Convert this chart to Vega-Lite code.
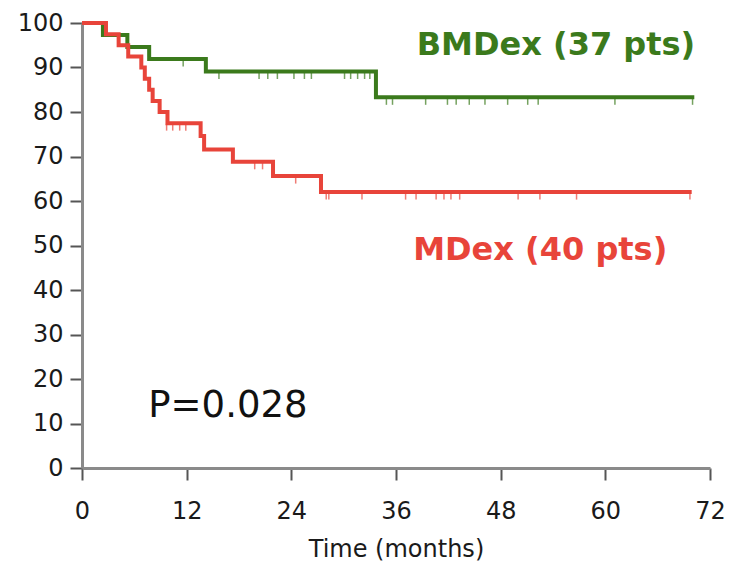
{
  "$schema": "https://vega.github.io/schema/vega-lite/v6.json",
  "autosize": "none",
  "width": 628,
  "height": 445,
  "padding": {"left": 82, "top": 23, "right": 23, "bottom": 95},
  "background": "white",
  "config": {
    "view": {"stroke": null},
    "axis": {
      "grid": false,
      "labelFlush": false,
      "domainColor": "#8a8a8a",
      "domainWidth": 3,
      "tickColor": "#555555",
      "tickWidth": 2,
      "tickSize": 12,
      "labelFont": "DejaVu Sans",
      "labelFontSize": 24,
      "labelColor": "#1a1a1a",
      "titleFont": "DejaVu Sans",
      "titleFontWeight": "normal",
      "titleFontSize": 24,
      "titleColor": "#1a1a1a"
    }
  },
  "datasets": {
    "curves": [
      {"group": "BMDex", "time": 0, "surv": 100},
      {"group": "BMDex", "time": 2.4, "surv": 97.3},
      {"group": "BMDex", "time": 5.2, "surv": 94.6},
      {"group": "BMDex", "time": 7.7, "surv": 91.9},
      {"group": "BMDex", "time": 14.2, "surv": 89.1},
      {"group": "BMDex", "time": 33.7, "surv": 83.3},
      {"group": "BMDex", "time": 70.2, "surv": 83.3},
      {"group": "MDex", "time": 0, "surv": 100},
      {"group": "MDex", "time": 2.75, "surv": 97.5},
      {"group": "MDex", "time": 4.2, "surv": 95},
      {"group": "MDex", "time": 5.3, "surv": 92.5},
      {"group": "MDex", "time": 6.8, "surv": 90},
      {"group": "MDex", "time": 7.2, "surv": 87.5},
      {"group": "MDex", "time": 7.7, "surv": 85},
      {"group": "MDex", "time": 8.1, "surv": 82.5},
      {"group": "MDex", "time": 8.9, "surv": 80},
      {"group": "MDex", "time": 9.8, "surv": 77.5},
      {"group": "MDex", "time": 13.6, "surv": 74.6},
      {"group": "MDex", "time": 14.0, "surv": 71.6},
      {"group": "MDex", "time": 17.3, "surv": 68.8},
      {"group": "MDex", "time": 21.9, "surv": 65.6},
      {"group": "MDex", "time": 27.4, "surv": 62},
      {"group": "MDex", "time": 69.9, "surv": 62}
    ],
    "censor": [
      {"group": "BMDex", "time": 11.6, "surv": 91.9},
      {"group": "BMDex", "time": 15.7, "surv": 89.1},
      {"group": "BMDex", "time": 20.3, "surv": 89.1},
      {"group": "BMDex", "time": 21.3, "surv": 89.1},
      {"group": "BMDex", "time": 22.4, "surv": 89.1},
      {"group": "BMDex", "time": 24.3, "surv": 89.1},
      {"group": "BMDex", "time": 25.5, "surv": 89.1},
      {"group": "BMDex", "time": 26.3, "surv": 89.1},
      {"group": "BMDex", "time": 30.1, "surv": 89.1},
      {"group": "BMDex", "time": 30.8, "surv": 89.1},
      {"group": "BMDex", "time": 31.6, "surv": 89.1},
      {"group": "BMDex", "time": 32.4, "surv": 89.1},
      {"group": "BMDex", "time": 33.0, "surv": 89.1},
      {"group": "BMDex", "time": 34.9, "surv": 83.3},
      {"group": "BMDex", "time": 35.6, "surv": 83.3},
      {"group": "BMDex", "time": 39.4, "surv": 83.3},
      {"group": "BMDex", "time": 41.9, "surv": 83.3},
      {"group": "BMDex", "time": 42.9, "surv": 83.3},
      {"group": "BMDex", "time": 44.4, "surv": 83.3},
      {"group": "BMDex", "time": 46.2, "surv": 83.3},
      {"group": "BMDex", "time": 48.8, "surv": 83.3},
      {"group": "BMDex", "time": 51.1, "surv": 83.3},
      {"group": "BMDex", "time": 52.3, "surv": 83.3},
      {"group": "BMDex", "time": 61.1, "surv": 83.3},
      {"group": "BMDex", "time": 70.0, "surv": 83.3},
      {"group": "MDex", "time": 9.7, "surv": 77.5},
      {"group": "MDex", "time": 10.4, "surv": 77.5},
      {"group": "MDex", "time": 11.2, "surv": 77.5},
      {"group": "MDex", "time": 11.9, "surv": 77.5},
      {"group": "MDex", "time": 19.8, "surv": 68.8},
      {"group": "MDex", "time": 20.7, "surv": 68.8},
      {"group": "MDex", "time": 24.5, "surv": 65.6},
      {"group": "MDex", "time": 28.0, "surv": 62},
      {"group": "MDex", "time": 28.3, "surv": 62},
      {"group": "MDex", "time": 32.1, "surv": 62},
      {"group": "MDex", "time": 37.1, "surv": 62},
      {"group": "MDex", "time": 38.3, "surv": 62},
      {"group": "MDex", "time": 40.6, "surv": 62},
      {"group": "MDex", "time": 41.5, "surv": 62},
      {"group": "MDex", "time": 42.3, "surv": 62},
      {"group": "MDex", "time": 43.3, "surv": 62},
      {"group": "MDex", "time": 50.0, "surv": 62},
      {"group": "MDex", "time": 52.5, "surv": 62},
      {"group": "MDex", "time": 56.7, "surv": 62},
      {"group": "MDex", "time": 69.7, "surv": 62}
    ],
    "labels": [
      {"group": "BMDex", "text": "BMDex (37 pts)", "time": 70.3, "surv": 92.8},
      {"group": "MDex", "text": "MDex (40 pts)", "time": 67.1, "surv": 46.7}
    ],
    "pvalue": [
      {"text": "P=0.028", "time": 7.6, "surv": 11.5}
    ]
  },
  "layer": [
    {
      "data": {"name": "curves"},
      "mark": {"type": "line", "interpolate": "step-after", "strokeWidth": 4},
      "encoding": {
        "x": {"field": "time", "type": "quantitative", "scale": {"domain": [0, 72], "nice": false},
              "axis": {"values": [0, 12, 24, 36, 48, 60, 72], "title": "Time (months)", "labelPadding": 19, "titlePadding": 14}},
        "y": {"field": "surv", "type": "quantitative", "scale": {"domain": [0, 100], "nice": false},
              "axis": {"values": [0, 10, 20, 30, 40, 50, 60, 70, 80, 90, 100], "title": null, "labelPadding": 7}},
        "color": {"field": "group", "type": "nominal", "scale": {"domain": ["BMDex", "MDex"], "range": ["#3b7a1c", "#e8443a"]}, "legend": null},
        "order": {"field": "time", "type": "quantitative"}
      }
    },
    {
      "data": {"name": "censor"},
      "mark": {"type": "tick", "orient": "vertical", "size": 7, "thickness": 1.5, "yOffset": 4},
      "encoding": {
        "x": {"field": "time", "type": "quantitative"},
        "y": {"field": "surv", "type": "quantitative"},
        "color": {"field": "group", "type": "nominal", "legend": null}
      }
    },
    {
      "data": {"name": "labels"},
      "mark": {"type": "text", "align": "right", "baseline": "alphabetic", "font": "DejaVu Sans", "fontWeight": "bold", "fontSize": 32},
      "encoding": {
        "x": {"field": "time", "type": "quantitative"},
        "y": {"field": "surv", "type": "quantitative"},
        "text": {"field": "text"},
        "color": {"field": "group", "type": "nominal", "legend": null}
      }
    },
    {
      "data": {"name": "pvalue"},
      "mark": {"type": "text", "align": "left", "baseline": "alphabetic", "font": "DejaVu Sans", "fontSize": 37, "color": "#111111"},
      "encoding": {
        "x": {"field": "time", "type": "quantitative"},
        "y": {"field": "surv", "type": "quantitative"},
        "text": {"field": "text"}
      }
    }
  ]
}
